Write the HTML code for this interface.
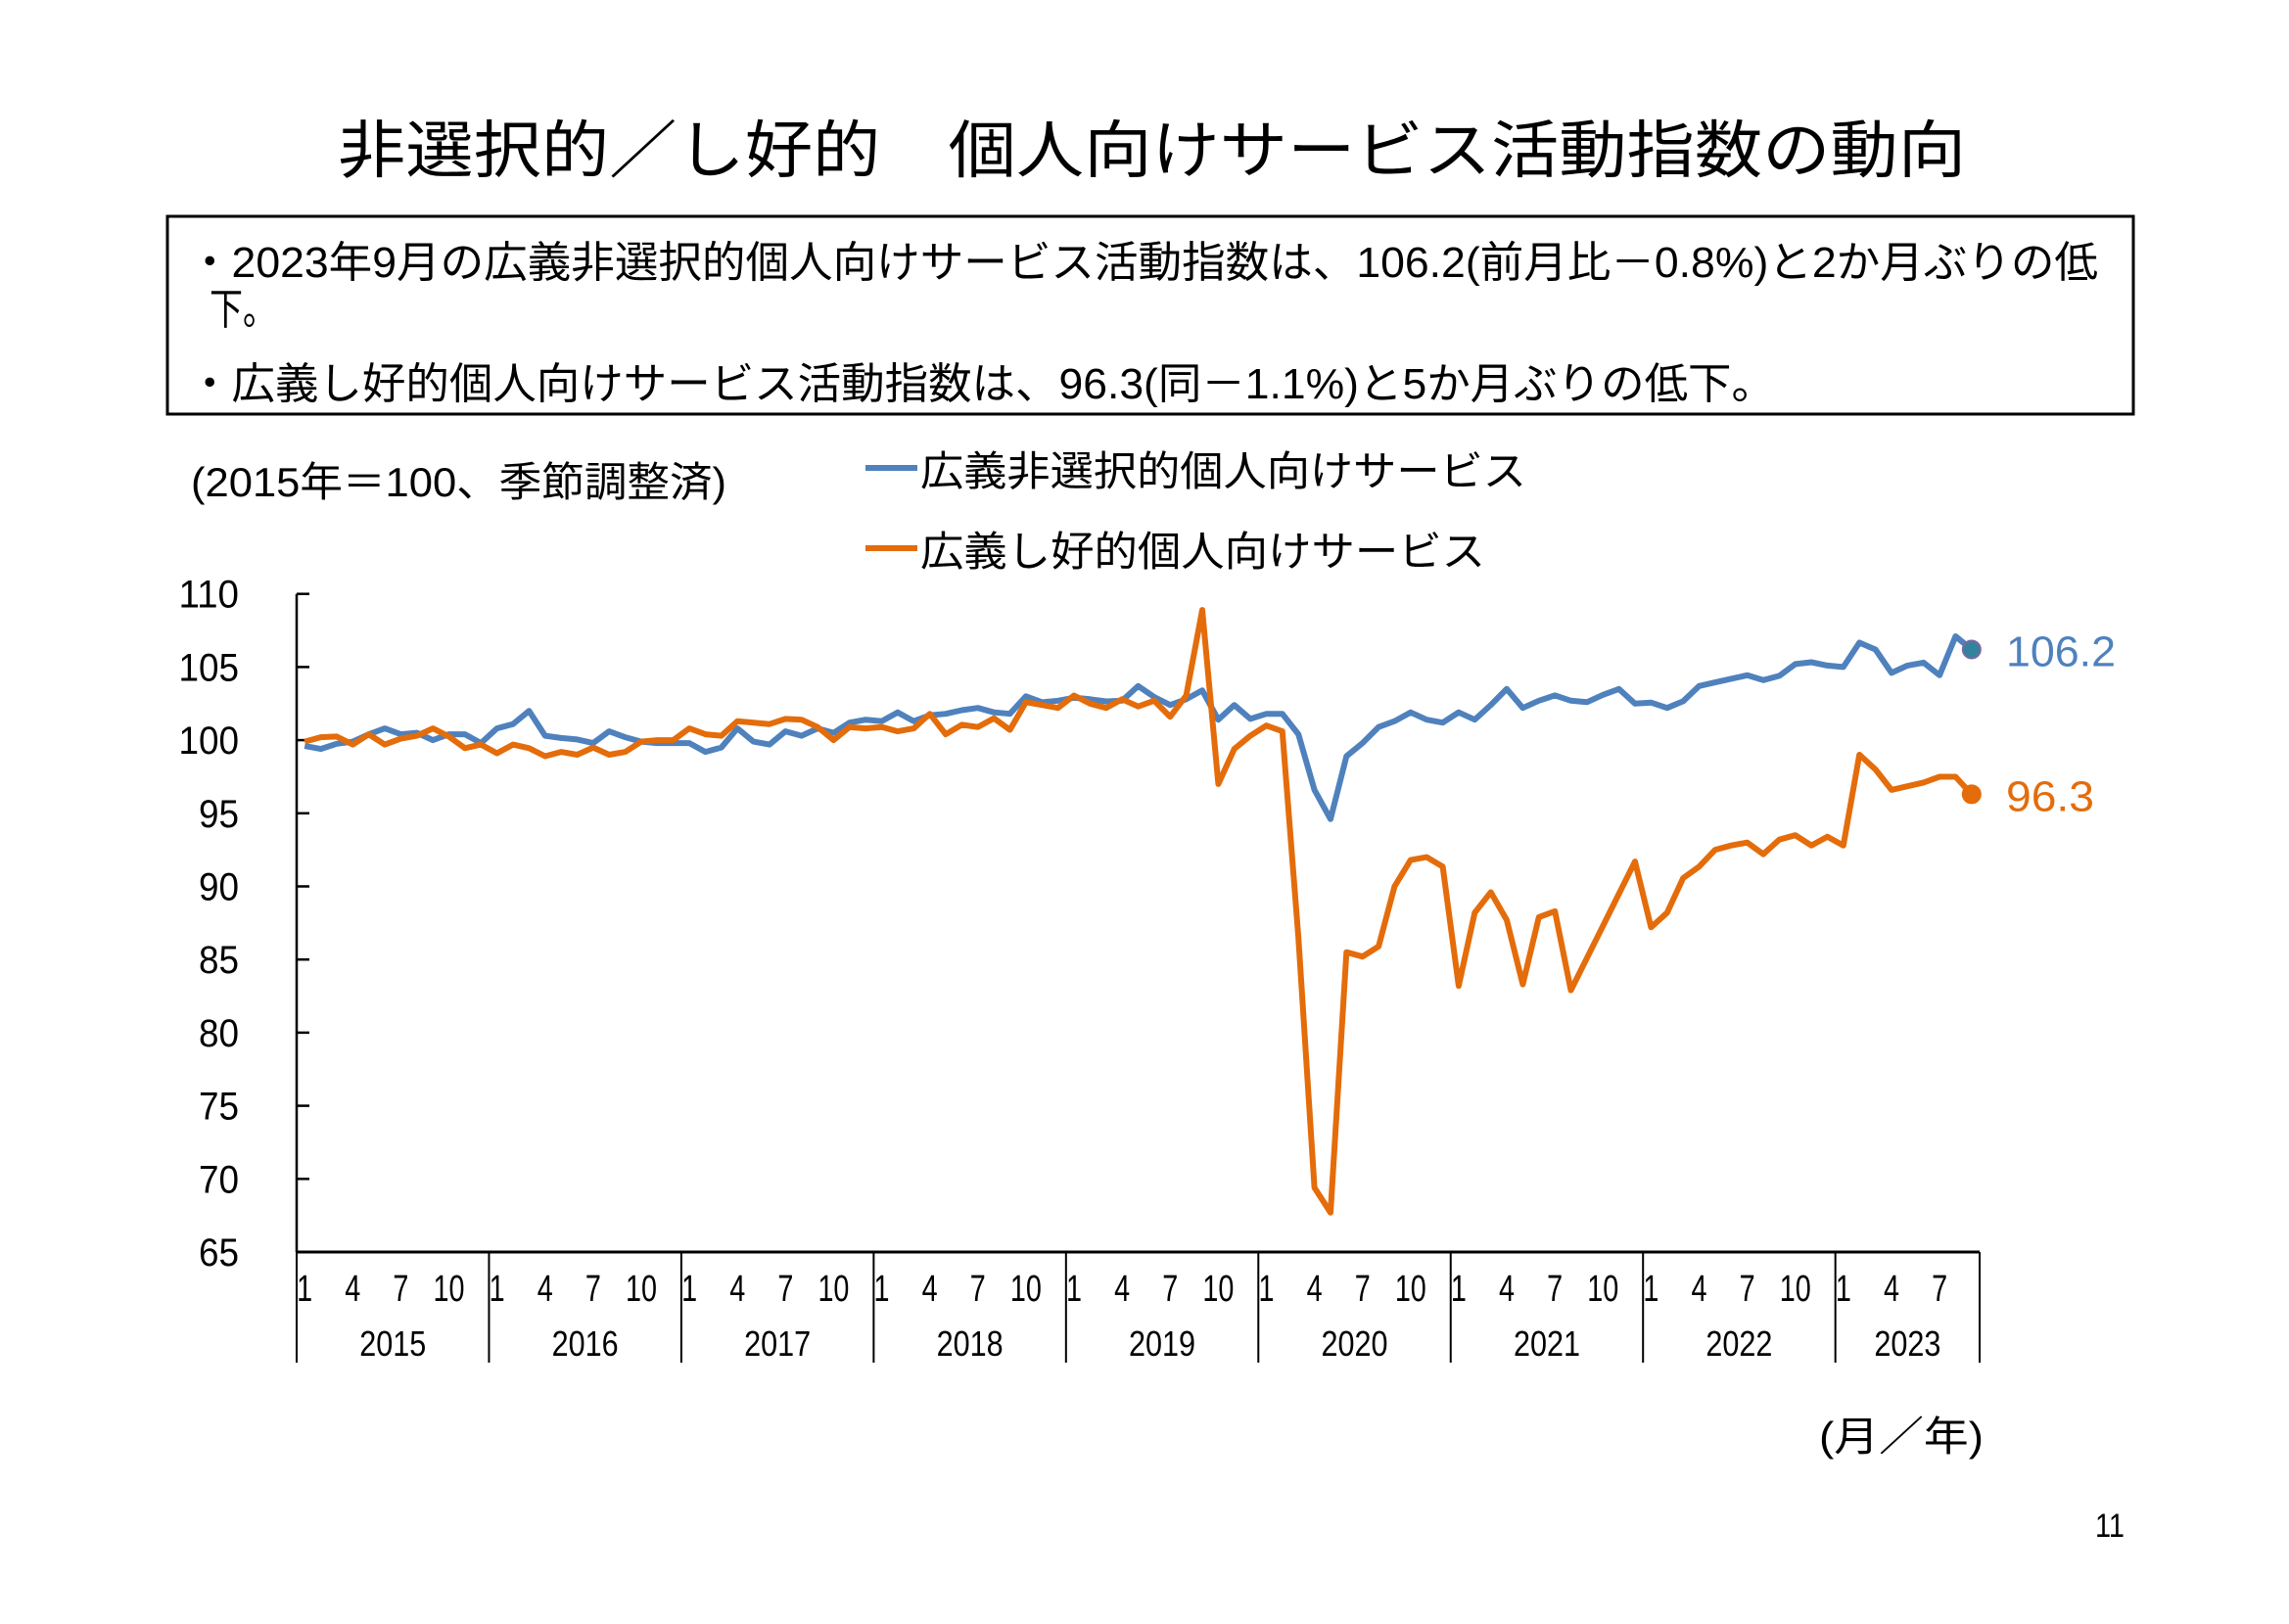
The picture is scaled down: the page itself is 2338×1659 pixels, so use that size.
<!DOCTYPE html>
<html><head><meta charset="utf-8"><style>
html,body{margin:0;padding:0;background:#fff;}
svg text{font-family:"Liberation Sans","Noto Sans CJK JP",sans-serif;fill:#000;}
</style></head><body>
<svg id="chart" xmlns="http://www.w3.org/2000/svg" width="2338" height="1654" viewBox="0 0 2338 1654">
<rect width="2338" height="1654" fill="#fff"/>
<text x="345" y="176" font-size="64" textLength="1663" lengthAdjust="spacingAndGlyphs">非選択的／し好的　個人向けサービス活動指数の動向</text>
<rect x="171" y="221" width="2008" height="202" fill="none" stroke="#000" stroke-width="3"/>
<text x="192" y="283" font-size="44" textLength="1951" lengthAdjust="spacingAndGlyphs">・2023年9月の広義非選択的個人向けサービス活動指数は、106.2(前月比－0.8%)と2か月ぶりの低</text>
<text x="214" y="331" font-size="44" textLength="68" lengthAdjust="spacingAndGlyphs">下。</text>
<text x="192" y="407" font-size="44" textLength="1621" lengthAdjust="spacingAndGlyphs">・広義し好的個人向けサービス活動指数は、96.3(同－1.1%)と5か月ぶりの低下。</text>
<text x="195" y="507" font-size="42" textLength="547" lengthAdjust="spacingAndGlyphs">(2015年＝100、季節調整済)</text>
<line x1="884" y1="478" x2="937" y2="478" stroke="#4F81BD" stroke-width="6"/>
<text x="940" y="496" font-size="42" textLength="619" lengthAdjust="spacingAndGlyphs">広義非選択的個人向けサービス</text>
<line x1="884" y1="560" x2="937" y2="560" stroke="#E46C0A" stroke-width="6"/>
<text x="940" y="578" font-size="42" textLength="577" lengthAdjust="spacingAndGlyphs">広義し好的個人向けサービス</text>
<g id="axes"></g>
<g id="series"></g>
<text x="1858" y="1482" font-size="42" textLength="168" lengthAdjust="spacingAndGlyphs">(月／年)</text>
<text x="2140" y="1570" font-size="34" textLength="30" lengthAdjust="spacingAndGlyphs">11</text>
</svg>
<script>
const years = ["2015","2016","2017","2018","2019","2020","2021","2022","2023"];
const monthLabels = ["1","4","7","10"];
const yTicks = [65,70,75,80,85,90,95,100,105,110];
const nonSelective = [99.6,99.4,99.75,99.9,100.4,100.8,100.4,100.5,100.0,100.4,100.4,99.8,
100.8,101.1,102.0,100.3,100.15,100.05,99.8,100.6,100.2,99.9,99.8,99.8,
99.8,99.2,99.5,100.8,99.9,99.7,100.6,100.3,100.8,100.5,101.2,101.4,
101.3,101.9,101.3,101.7,101.8,102.05,102.2,101.9,101.8,103.0,102.6,102.7,
102.9,102.8,102.65,102.7,103.7,102.95,102.4,102.8,103.4,101.4,102.4,101.45,
101.8,101.8,100.4,96.6,94.6,98.9,99.8,100.9,101.3,101.9,101.4,101.2,
101.9,101.4,102.4,103.5,102.2,102.7,103.06,102.7,102.6,103.1,103.5,102.5,
102.57,102.2,102.66,103.7,103.95,104.2,104.44,104.1,104.4,105.2,105.33,105.1,
105.0,106.67,106.2,104.6,105.1,105.3,104.44,107.1,106.2];
const hobby = [99.9,100.2,100.25,99.7,100.4,99.7,100.1,100.3,100.8,100.25,99.45,99.7,
99.1,99.7,99.45,98.9,99.2,99.0,99.5,99.0,99.2,99.9,100.0,100.0,
100.8,100.4,100.3,101.3,101.2,101.1,101.45,101.4,100.9,100.0,100.9,100.8,
100.9,100.6,100.8,101.8,100.4,101.05,100.9,101.5,100.7,102.6,102.4,102.2,
103.05,102.5,102.2,102.8,102.3,102.7,101.6,103.05,108.9,97.0,99.4,100.3,
101.0,100.6,86.5,69.4,67.7,85.5,85.2,85.9,90.0,91.8,92.0,91.35,
83.2,88.2,89.6,87.7,83.3,87.9,88.3,82.9,85.1,87.3,89.5,91.7,
87.2,88.2,90.56,91.35,92.5,92.8,93.0,92.2,93.2,93.5,92.8,93.4,
92.8,99.0,98.0,96.6,96.85,97.1,97.5,97.5,96.3];
const lastLabels = ["106.2","96.3"];

const NS="http://www.w3.org/2000/svg";
const X0=303, X1=2022, YT=606.7, YB=1279, VMIN=65, VMAX=110;
const nMonths = nonSelective.length;
const step=(X1-X0)/nMonths;
const xScale=i=>X0+(i+0.5)*step;
const yScale=v=>YB-(v-VMIN)/(VMAX-VMIN)*(YB-YT);
function mk(tag,attrs,parent){const e=document.createElementNS(NS,tag);for(const k in attrs)e.setAttribute(k,attrs[k]);parent.appendChild(e);return e;}
const ax=document.getElementById('axes');
let el=mk('line',{x1:X0,y1:YT,x2:X0,y2:YB,stroke:'#000','stroke-width':2.5},ax);


el=mk('line',{x1:X0,y1:YB,x2:X1,y2:YB,stroke:'#000','stroke-width':3},ax);


yTicks.forEach(v=>{
  const y=yScale(v);
  if(v>VMIN){const t=mk('line',{x1:X0,y1:y,x2:X0+13,y2:y,stroke:'#000','stroke-width':2.5},ax);
  
  }
  const s=String(v);
  const l=mk('text',{x:244,y:y+14,'font-size':40,'text-anchor':'end',textLength:s.length*20.5,lengthAdjust:'spacingAndGlyphs'},ax);
  l.textContent=s;
  
  
});
years.forEach((yr,k)=>{
  const start=k*12, len=Math.min(12,nMonths-start);
  const xs=X0+start*step;
  const sep=mk('line',{x1:xs,y1:YB,x2:xs,y2:1392,stroke:'#000','stroke-width':2},ax);
  
  
  monthLabels.forEach((m,j)=>{
    const mi=start+j*3; if(mi>=nMonths) return;
    const t=mk('text',{x:xScale(mi),y:1329,'font-size':38,'text-anchor':'middle',textLength:m.length*16,lengthAdjust:'spacingAndGlyphs'},ax);
    t.textContent=m;
    
    
  });
  const yt=mk('text',{x:xs+len*step/2,y:1385,'font-size':36,'text-anchor':'middle',textLength:68,lengthAdjust:'spacingAndGlyphs'},ax);
  yt.textContent=yr;
  
  
});
const endSep=mk('line',{x1:X1,y1:YB,x2:X1,y2:1392,stroke:'#000','stroke-width':2},ax);



const sg=document.getElementById('series');
function drawSeries(vals,color,name,dotFill,dotStroke,label,labelW){
  const d=vals.map((v,i)=>(i?'L':'M')+xScale(i).toFixed(1)+' '+yScale(v).toFixed(1)).join(' ');
  const p=mk('path',{d:d,fill:'none',stroke:color,'stroke-width':6,'stroke-linejoin':'round'},sg);
  
  
  const li=vals.length-1;
  const c=mk('circle',{cx:xScale(li),cy:yScale(vals[li]),r:9,fill:dotFill,stroke:dotStroke,'stroke-width':2},sg);
  
  
  const t=mk('text',{x:2049,y:yScale(vals[li])+17,'font-size':44,textLength:labelW,lengthAdjust:'spacingAndGlyphs'},sg);
  t.style.fill=color;
  t.textContent=label;
  
  
}
drawSeries(nonSelective,'#4F81BD','nonselective','#31849B','#8064A2',lastLabels[0],112);
drawSeries(hobby,'#E46C0A','hobby','#E46C0A','#E46C0A',lastLabels[1],90);
</script>
</body></html>
